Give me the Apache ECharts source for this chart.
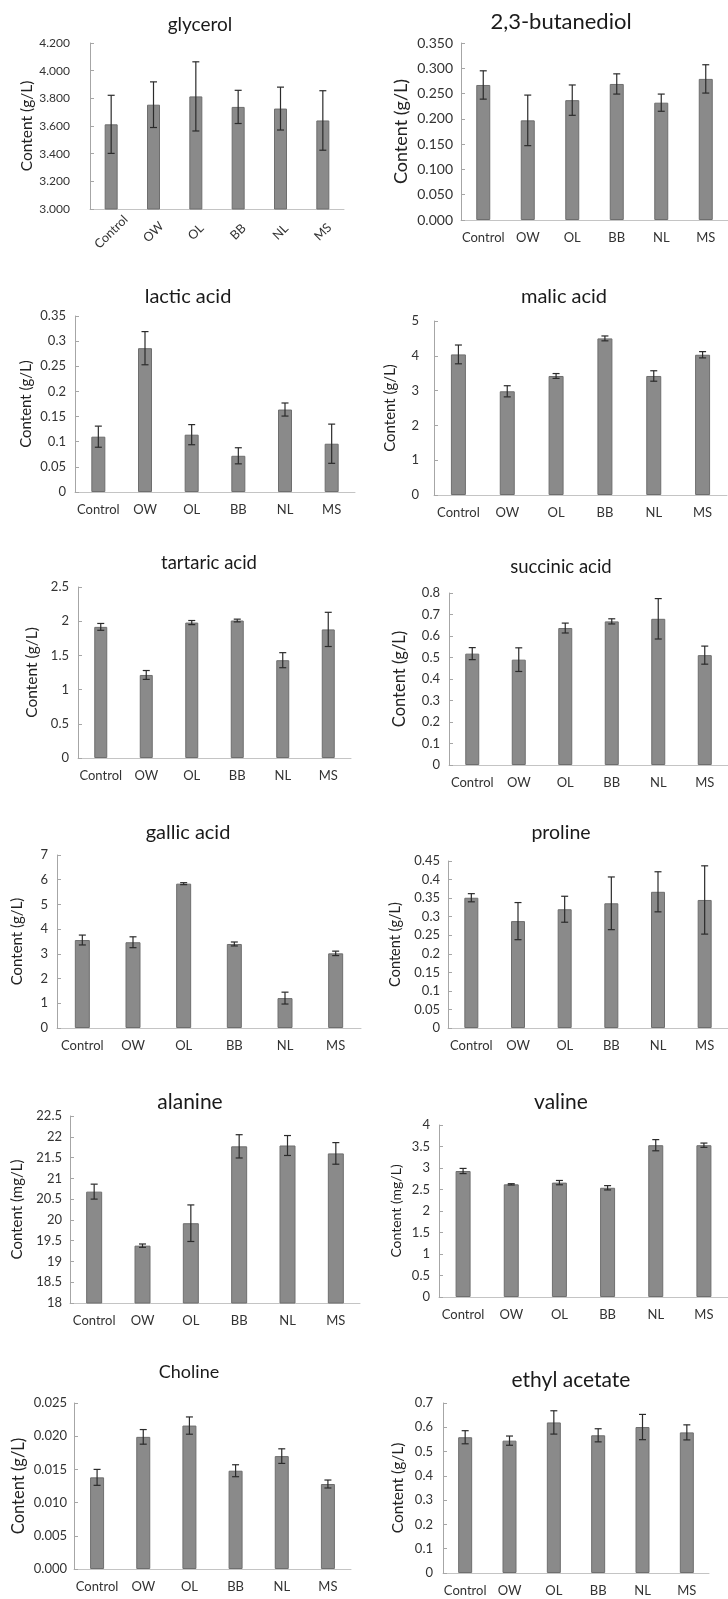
<!DOCTYPE html>
<html><head><meta charset="utf-8">
<script src="https://cdn.jsdelivr.net/npm/echarts@6/dist/echarts.min.js"></script>
<style>html,body{margin:0;padding:0;background:#fff}#c{width:728px;height:1599px}</style>
</head><body><div id="c"></div>
<script>
// ---------- data ----------
const categories = ['Control', 'OW', 'OL', 'BB', 'NL', 'MS'];

const glycerolMean = [3.612, 3.754, 3.814, 3.738, 3.726, 3.640];
const glycerolErr  = [0.210, 0.165, 0.250, 0.120, 0.155, 0.215];

const butanediolMean = [0.267, 0.197, 0.237, 0.269, 0.232, 0.279];
const butanediolErr  = [0.028, 0.050, 0.030, 0.020, 0.017, 0.028];

const lacticMean = [0.110, 0.286, 0.114, 0.072, 0.164, 0.096];
const lacticErr  = [0.021, 0.033, 0.020, 0.016, 0.013, 0.039];

const malicMean = [4.04, 2.98, 3.42, 4.50, 3.42, 4.03];
const malicErr  = [0.27, 0.16, 0.07, 0.07, 0.15, 0.09];

const tartaricMean = [1.917, 1.214, 1.980, 2.010, 1.430, 1.880];
const tartaricErr  = [0.050, 0.065, 0.030, 0.020, 0.110, 0.250];

const succinicMean = [0.518, 0.490, 0.637, 0.668, 0.680, 0.511];
const succinicErr  = [0.028, 0.055, 0.023, 0.012, 0.094, 0.042];

const gallicMean = [3.56, 3.47, 5.84, 3.40, 1.21, 3.02];
const gallicErr  = [0.20, 0.22, 0.04, 0.08, 0.24, 0.09];

const prolineMean = [0.351, 0.288, 0.320, 0.336, 0.367, 0.345];
const prolineErr  = [0.011, 0.050, 0.035, 0.071, 0.054, 0.092];

const alanineMean = [20.68, 19.38, 19.92, 21.77, 21.79, 21.60];
const alanineErr  = [0.18, 0.04, 0.44, 0.28, 0.24, 0.26];

const valineMean = [2.93, 2.62, 2.66, 2.54, 3.53, 3.53];
const valineErr  = [0.06, 0.015, 0.05, 0.05, 0.13, 0.05];

const cholineMean = [0.0138, 0.0199, 0.0216, 0.0148, 0.0170, 0.0128];
const cholineErr  = [0.0012, 0.0011, 0.0013, 0.0009, 0.0011, 0.0006];

const ethylMean = [0.559, 0.545, 0.620, 0.567, 0.601, 0.579];
const ethylErr  = [0.027, 0.019, 0.048, 0.027, 0.052, 0.031];

const titles = ['glycerol', '2,3-butanediol', 'lactic acid', 'malic acid', 'tartaric acid', 'succinic acid',
                'gallic acid', 'proline', 'alanine', 'valine', 'Choline', 'ethyl acetate'];
const yNames = ['Content (g/L)', 'Content (g/L)', 'Content (g/L)', 'Content (g/L)', 'Content (g/L)', 'Content (g/L)',
                'Content (g/L)', 'Content (g/L)', 'Content (mg/L)', 'Content (mg/L)', 'Content (g/L)', 'Content (g/L)'];
const yMin      = [3, 0, 0, 0, 0, 0, 0, 0, 18, 0, 0, 0];
const yMax      = [4.2, 0.35, 0.35, 5, 2.5, 0.8, 7, 0.45, 22.5, 4, 0.025, 0.7];
const yInterval = [0.2, 0.05, 0.05, 1, 0.5, 0.1, 1, 0.05, 0.5, 0.5, 0.005, 0.1];
const yDecimals = [3, 3, null, null, null, null, null, null, null, null, 3, null];

const means = [glycerolMean, butanediolMean, lacticMean, malicMean, tartaricMean, succinicMean,
               gallicMean, prolineMean, alanineMean, valineMean, cholineMean, ethylMean];
const errs  = [glycerolErr, butanediolErr, lacticErr, malicErr, tartaricErr, succinicErr,
               gallicErr, prolineErr, alanineErr, valineErr, cholineErr, ethylErr];

// ---------- layout (pixels / font sizes) ----------
const layout = [
  {left: 90,  top: 43,   width: 254, height: 166, tx: 200, ty: 25,   ts: 19,   gap: 55, ns: 15.5, tk: 12, tm: 20, bw: 13, rot: 45},
  {left: 461, top: 43,   width: 267, height: 177, tx: 561, ty: 22,   ts: 22,   gap: 51, ns: 18,   tk: 14, tm: 8,  bw: 14},
  {left: 75,  top: 316,  width: 280, height: 176, tx: 188, ty: 297,  ts: 20,   gap: 41, ns: 15,   tk: 13, tm: 9,  bw: 14},
  {left: 434, top: 321,  width: 293, height: 174, tx: 564, ty: 297,  ts: 20,   gap: 36, ns: 15,   tk: 13, tm: 15, bw: 15},
  {left: 78,  top: 587,  width: 273, height: 171, tx: 209, ty: 563,  ts: 18.5, gap: 38, ns: 15.5, tk: 13, tm: 9,  bw: 13},
  {left: 449, top: 593,  width: 279, height: 172, tx: 561, ty: 567,  ts: 18.5, gap: 41, ns: 16.5, tk: 13, tm: 9,  bw: 14},
  {left: 57,  top: 855,  width: 304, height: 173, tx: 188, ty: 833,  ts: 20,   gap: 32, ns: 15,   tk: 13, tm: 9,  bw: 15},
  {left: 448, top: 861,  width: 280, height: 167, tx: 561, ty: 833,  ts: 19.5, gap: 45, ns: 14.5, tk: 13, tm: 8,  bw: 14},
  {left: 70,  top: 1116, width: 290, height: 187, tx: 190, ty: 1102, ts: 21,   gap: 45, ns: 15,   tk: 13, tm: 8,  bw: 16},
  {left: 439, top: 1125, width: 289, height: 172, tx: 561, ty: 1102, ts: 21,   gap: 36, ns: 14,   tk: 13, tm: 9,  bw: 15},
  {left: 74,  top: 1403, width: 277, height: 166, tx: 189, ty: 1372, ts: 18,   gap: 47, ns: 16.5, tk: 13, tm: 7,  bw: 14},
  {left: 443, top: 1403, width: 266, height: 170, tx: 571, ty: 1380, ts: 21,   gap: 37, ns: 15.5, tk: 13, tm: 10, bw: 14}
];

const FONT = 'Lato';
const grids = [], xAxes = [], yAxes = [], series = [], graphics = [];

function errRender(params, api) {
  const x = api.value(0), lo = api.value(1), hi = api.value(2);
  const t = api.coord([x, hi]);
  const b = api.coord([x, lo]);
  const cap = 3.5;
  const style = {stroke: '#2b2b2b', lineWidth: 1.2};
  return {type: 'group', children: [
    {type: 'line', shape: {x1: t[0], y1: t[1], x2: b[0], y2: b[1]}, style},
    {type: 'line', shape: {x1: t[0] - cap, y1: t[1], x2: t[0] + cap, y2: t[1]}, style},
    {type: 'line', shape: {x1: b[0] - cap, y1: b[1], x2: b[0] + cap, y2: b[1]}, style}
  ]};
}

layout.forEach((L, i) => {
  grids.push({left: L.left, top: L.top, width: L.width, height: L.height, containLabel: false});
  xAxes.push({
    type: 'category', gridIndex: i, data: categories,
    axisLine: {onZero: false, lineStyle: {color: '#c4c4c4', width: 1}},
    axisTick: {show: false},
    axisLabel: L.rot
      ? {interval: 0, rotate: L.rot, align: 'center', verticalAlign: 'middle', margin: 23,
         fontSize: 12.5, color: '#333', fontFamily: FONT}
      : {interval: 0, margin: 11, fontSize: 13, color: '#333', fontFamily: FONT}
  });
  const dec = yDecimals[i];
  yAxes.push({
    type: 'value', gridIndex: i, min: yMin[i], max: yMax[i], interval: yInterval[i],
    name: yNames[i], nameLocation: 'middle', nameGap: L.gap, nameRotate: 90,
    nameTextStyle: {fontSize: L.ns, color: '#222', fontFamily: FONT},
    axisLine: {show: true, lineStyle: {color: '#a6a6a6', width: 1}},
    axisTick: {show: true, inside: true, length: 4, lineStyle: {color: '#a6a6a6'}},
    splitLine: {show: false},
    axisLabel: {
      fontSize: L.tk, color: '#333', fontFamily: FONT, margin: L.tm,
      formatter: v => dec != null ? v.toFixed(dec) : String(+v.toFixed(4))
    }
  });
  series.push({
    type: 'bar', xAxisIndex: i, yAxisIndex: i, data: means[i], barWidth: L.bw, clip: true,
    itemStyle: {color: '#8a8a8a', borderColor: '#6e6e6e', borderWidth: 1},
    silent: true
  });
  series.push({
    type: 'custom', xAxisIndex: i, yAxisIndex: i, renderItem: errRender, silent: true, z: 5,
    data: means[i].map((m, k) => [k, m - errs[i][k], m + errs[i][k]])
  });
  graphics.push({
    type: 'text', x: L.tx, y: L.ty,
    style: {text: titles[i], fontSize: L.ts, fontFamily: FONT, fill: '#1a1a1a',
            textAlign: 'center', textVerticalAlign: 'middle'}
  });
});

const chart = echarts.init(document.getElementById('c'), null, {renderer: 'canvas'});
chart.setOption({
  animation: false,
  backgroundColor: '#fff',
  grid: grids, xAxis: xAxes, yAxis: yAxes, series: series,
  graphic: graphics
});
</script></body></html>
